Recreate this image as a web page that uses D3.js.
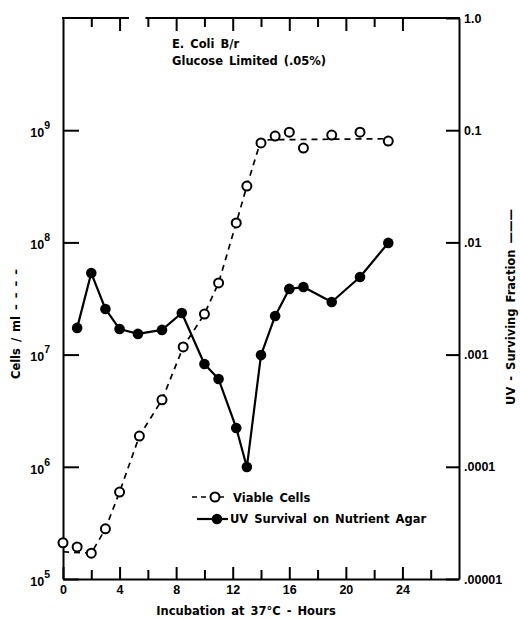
<!DOCTYPE html>
<html>
<head>
<meta charset="utf-8">
<script src="https://cdn.jsdelivr.net/npm/d3@7"></script>
<style>
  body { margin: 0; background: #fff; }
  svg { display: block; font-family: 'DejaVu Sans', sans-serif; }
  .axis path, .axis line { stroke: #000; stroke-width: 2; }
  .axis text { font-size: 12.5px; font-weight: bold; fill: #000; }
  .label { font-size: 11.5px; font-weight: bold; fill: #000; word-spacing: 2px; }
</style>
</head>
<body>
<div id="chart"></div>
<script>
// viable cells (open circles, left axis)
const cellHours = [0, 1, 2, 3, 4, 5.4, 7, 8.5, 10, 11, 12.25, 13, 14, 15, 16, 17, 19, 21, 23];
const cellCounts = [2.1e5, 1.93e5, 1.7e5, 2.8e5, 5.96e5, 1.88e6, 3.95e6, 1.17e7, 2.3e7, 4.35e7,
  1.49e8, 3.18e8, 7.7e8, 8.87e8, 9.6e8, 6.93e8, 9.05e8, 9.6e8, 8.0e8];

// hand drawn dashed curve through the viable counts
const fitHours = [0, 2, 3, 4, 5.4, 7, 8.5, 10, 11, 12.25, 13, 14, 23];
const fitCounts = [1.75e5, 1.7e5, 2.8e5, 5.96e5, 1.88e6, 3.95e6, 1.17e7, 2.3e7, 4.35e7,
  1.49e8, 3.18e8, 8.2e8, 8.4e8];

// UV surviving fraction (filled circles, right axis)
const uvHours = [1, 2, 3, 4, 5.3, 7, 8.4, 10, 11, 12.25, 13, 14, 15, 16, 17, 19, 21, 23];
const uvFraction = [1.73e-3, 5.33e-3, 2.55e-3, 1.69e-3, 1.53e-3, 1.66e-3, 2.35e-3, 8.24e-4,
  6.06e-4, 2.22e-4, 9.95e-5, 9.9e-4, 2.21e-3, 3.85e-3, 4.0e-3, 2.94e-3, 4.92e-3, 9.9e-3];

const hourTicks = [0, 4, 8, 12, 16, 20, 24];
const hourMinorTicks = [2, 6, 10, 14, 18, 22, 26];
const cellTicks = [1e5, 1e6, 1e7, 1e8, 1e9];
const fracTicks = [1e-5, 1e-4, 1e-3, 1e-2, 1e-1, 1];
const fracLabels = ['.00001', '.0001', '.001', '.01', '0.1', '1.0'];

const width = 520;
const height = 619;
const margin = { top: 18, right: 61, bottom: 40, left: 63 };

const svg = d3
  .select('#chart')
  .append('svg')
  .attr('width', width)
  .attr('height', height);

const x = d3.scaleLinear().domain([0, 28]).range([margin.left, width - margin.right]);
const yL = d3.scaleLog().domain([1e5, 1e10]).range([height - margin.bottom, margin.top]);
const yR = d3.scaleLog().domain([1e-5, 1]).range([height - margin.bottom, margin.top]);

const bottom = height - margin.bottom;

// bottom axis, major and minor ticks pointing inward
svg.append('g')
  .attr('class', 'axis')
  .attr('transform', `translate(0, ${bottom})`)
  .call(d3.axisBottom(x).tickValues(hourTicks).tickSizeInner(-12).tickSizeOuter(0).tickPadding(6))
  .call((g) => g.selectAll('.tick text').attr('dy', '0.75em'));

svg.append('g')
  .attr('class', 'axis')
  .attr('transform', `translate(0, ${bottom})`)
  .call(d3.axisBottom(x).tickValues(hourMinorTicks).tickSizeInner(-9).tickSizeOuter(0).tickFormat(''))
  .call((g) => g.select('.domain').remove());

// top axis (the frame line has a break in it)
svg.append('g')
  .attr('class', 'axis')
  .attr('transform', `translate(0, ${margin.top})`)
  .call(d3.axisTop(x).tickValues(hourTicks.slice(1)).tickSizeInner(-13).tickFormat(''))
  .call((g) => g.select('.domain').remove());

svg.append('g')
  .attr('class', 'axis')
  .attr('transform', `translate(0, ${margin.top})`)
  .call(d3.axisTop(x).tickValues(hourMinorTicks.slice(0, -1)).tickSizeInner(-9).tickFormat(''))
  .call((g) => g.select('.domain').remove());

const topSegments = [[0, 4.6], [5.9, 28]];
svg.append('g')
  .attr('class', 'axis')
  .selectAll('line')
  .data(topSegments)
  .join('line')
  .attr('x1', (d) => x(d[0]) - 1)
  .attr('x2', (d) => x(d[1]) + 1)
  .attr('y1', margin.top)
  .attr('y2', margin.top);

// left axis
svg.append('g')
  .attr('class', 'axis')
  .attr('transform', `translate(${margin.left}, 0)`)
  .call(d3.axisLeft(yL).tickValues(cellTicks).tickSizeInner(-16).tickSizeOuter(0).tickPadding(13))
  .call((g) =>
    g.selectAll('.tick text').each(function (d) {
      const t = d3.select(this);
      t.text(null).attr('dy', '0.5em').attr('font-size', '13.5px');
      t.append('tspan').text('10');
      t.append('tspan')
        .attr('dy', '-0.75em')
        .attr('font-size', '10.5px')
        .text(Math.round(Math.log10(d)));
    })
  );

// right axis
svg.append('g')
  .attr('class', 'axis')
  .attr('transform', `translate(${width - margin.right}, 0)`)
  .call(d3.axisRight(yR).tickValues(fracTicks).tickSizeInner(-13).tickSizeOuter(0).tickPadding(5)
    .tickFormat((d, i) => fracLabels[i]));

// viable cells dashed line
const cellLine = d3.line()
  .x((d) => x(d[0]))
  .y((d) => yL(d[1]));

svg.append('path')
  .datum(d3.zip(fitHours, fitCounts))
  .attr('fill', 'none')
  .attr('stroke', '#000')
  .attr('stroke-width', 1.7)
  .attr('stroke-dasharray', '6,5')
  .attr('d', cellLine);

// uv survival solid line
const uvLine = d3.line()
  .x((d) => x(d[0]))
  .y((d) => yR(d[1]));

svg.append('path')
  .datum(d3.zip(uvHours, uvFraction))
  .attr('fill', 'none')
  .attr('stroke', '#000')
  .attr('stroke-width', 2.2)
  .attr('stroke-linejoin', 'round')
  .attr('d', uvLine);

svg.append('g')
  .selectAll('circle')
  .data(d3.zip(cellHours, cellCounts))
  .join('circle')
  .attr('cx', (d) => x(d[0]))
  .attr('cy', (d) => yL(d[1]))
  .attr('r', 4.5)
  .attr('fill', '#fff')
  .attr('stroke', '#000')
  .attr('stroke-width', 2);

svg.append('g')
  .selectAll('circle')
  .data(d3.zip(uvHours, uvFraction))
  .join('circle')
  .attr('cx', (d) => x(d[0]))
  .attr('cy', (d) => yR(d[1]))
  .attr('r', 5.3)
  .attr('fill', '#000');

// title
svg.append('text').attr('class', 'label').attr('x', 172).attr('y', 48).text('E. Coli B/r');
svg.append('text').attr('class', 'label').attr('x', 172).attr('y', 65).text('Glucose Limited (.05%)');

// legend
const legend = svg.append('g').attr('transform', 'translate(192, 0)');
legend.append('line')
  .attr('x1', 0).attr('x2', 36).attr('y1', 497).attr('y2', 497)
  .attr('stroke', '#000').attr('stroke-width', 1.7).attr('stroke-dasharray', '5,4');
legend.append('circle')
  .attr('cx', 23).attr('cy', 497).attr('r', 4.5)
  .attr('fill', '#fff').attr('stroke', '#000').attr('stroke-width', 2);
legend.append('text').attr('class', 'label').attr('x', 41).attr('y', 502).text('Viable Cells');

legend.append('line')
  .attr('x1', 5).attr('x2', 36).attr('y1', 519).attr('y2', 519)
  .attr('stroke', '#000').attr('stroke-width', 2.2);
legend.append('circle')
  .attr('cx', 25).attr('cy', 519).attr('r', 5.3).attr('fill', '#000');
legend.append('text').attr('class', 'label').attr('x', 38).attr('y', 523).text('UV Survival on Nutrient Agar');

// axis titles
svg.append('text')
  .attr('class', 'label')
  .attr('x', 246)
  .attr('y', 615)
  .attr('text-anchor', 'middle')
  .text('Incubation at 37°C - Hours');

svg.append('text')
  .attr('class', 'label')
  .attr('transform', 'translate(20, 324) rotate(-90)')
  .attr('text-anchor', 'middle')
  .text('Cells / ml – – – –');

svg.append('text')
  .attr('class', 'label')
  .attr('transform', 'translate(515, 307) rotate(-90)')
  .attr('text-anchor', 'middle')
  .text('UV - Surviving Fraction ———');
</script>
</body>
</html>
